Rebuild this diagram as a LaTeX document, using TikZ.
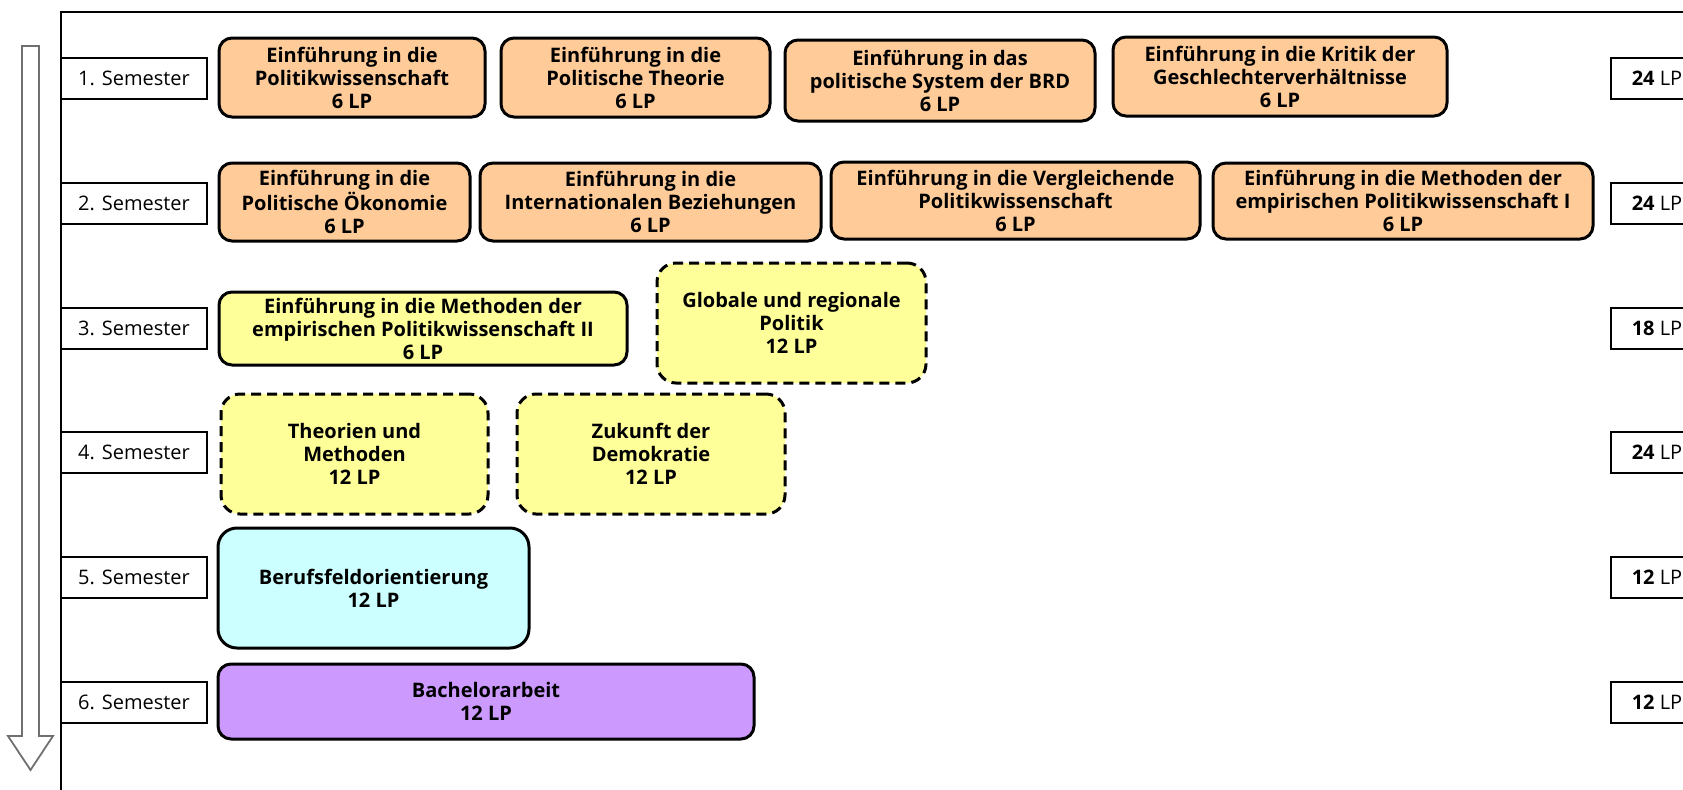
\documentclass[tikz,border=0pt]{standalone}
\usepackage{fontspec}
\setmainfont{Open Sans}
\definecolor{orangeF}{HTML}{FFCC99}
\definecolor{yellowF}{HTML}{FFFF99}
\definecolor{cyanF}{HTML}{CCFFFF}
\definecolor{purpleF}{HTML}{CC99FF}
\definecolor{arrowG}{HTML}{707070}
\tikzset{
  sem/.style={draw=black, line width=1pt, fill=white, inner sep=0pt,
    minimum width=73pt, minimum height=20.5pt, font=\fontsize{10}{12}\selectfont},
  lpbox/.style={draw=black, line width=1pt, fill=white, inner sep=0pt,
    minimum width=46pt, minimum height=20.5pt, font=\fontsize{10}{12}\selectfont},
  mod/.style={draw=black, line width=1.5pt, rounded corners=6.5pt, inner sep=0pt,
    align=center, font=\fontsize{10}{11.5}\selectfont\bfseries},
  modtall/.style={mod, rounded corners=9.5pt},
  moddash/.style={modtall, dash pattern=on 5pt off 3pt},
}
\begin{document}
\begin{tikzpicture}[x=0.5pt, y=-0.5pt]
\useasboundingbox (0,0) rectangle (1683,789);
\clip (0,0) rectangle (1683,789);
% frame
\draw[line width=1pt] (1700,12) -- (61,12) -- (61,800);
% arrow
\draw[arrowG, line width=0.9pt, fill=white] (22,46) -- (39,46) -- (39,736) -- (53,736) -- (30.5,770) -- (8,736) -- (22,736) -- cycle;
% semester labels
\node[sem] (s1) at (134,78.5) {1. Semester};
\node[sem] (s2) at (134,203.5) {2. Semester};
\node[sem] (s3) at (134,328) {3. Semester};
\node[sem] (s4) at (134,452.5) {4. Semester};
\node[sem] (s5) at (134,577) {5. Semester};
\node[sem] (s6) at (134,702) {6. Semester};
% LP labels
\node[lpbox] (l1) at (1657,78.5) {\textbf{24} LP};
\node[lpbox] (l2) at (1657,203.5) {\textbf{24} LP};
\node[lpbox] (l3) at (1657,328) {\textbf{18} LP};
\node[lpbox] (l4) at (1657,452.5) {\textbf{24} LP};
\node[lpbox] (l5) at (1657,577) {\textbf{12} LP};
\node[lpbox] (l6) at (1657,702) {\textbf{12} LP};
% row 1
\node[mod, fill=orangeF, minimum width=133pt, minimum height=39.5pt] (a1) at (352,77.5) {Einführung in die\\Politikwissenschaft\\6 LP};
\node[mod, fill=orangeF, minimum width=134.5pt, minimum height=39.5pt] (a2) at (635.5,77.5) {Einführung in die\\Politische Theorie\\6 LP};
\node[mod, fill=orangeF, minimum width=155pt, minimum height=40.5pt] (a3) at (940,80.5) {Einführung in das\\politische System der BRD\\6 LP};
\node[mod, fill=orangeF, minimum width=167pt, minimum height=39.5pt] (a4) at (1280,76.5) {Einführung in die Kritik der\\Geschlechterverhältnisse\\6 LP};
% row 2
\node[mod, fill=orangeF, minimum width=125.5pt, minimum height=39pt] (b1) at (344.5,202) {Einführung in die\\Politische Ökonomie\\6 LP};
\node[mod, fill=orangeF, minimum width=170.5pt, minimum height=39pt] (b2) at (650.5,202) {Einführung in die\\Internationalen Beziehungen\\6 LP};
\node[mod, fill=orangeF, minimum width=184.5pt, minimum height=38.5pt] (b3) at (1015.5,200.5) {Einführung in die Vergleichende\\Politikwissenschaft\\6 LP};
\node[mod, fill=orangeF, minimum width=190pt, minimum height=38pt] (b4) at (1403,201) {Einführung in die Methoden der\\empirischen Politikwissenschaft I\\6 LP};
% row 3
\node[mod, fill=yellowF, minimum width=204pt, minimum height=36.5pt] (c1) at (423,328.5) {Einführung in die Methoden der\\empirischen Politikwissenschaft II\\6 LP};
\node[moddash, fill=yellowF, minimum width=134.5pt, minimum height=60pt] (c2) at (791.5,323) {Globale und regionale\\Politik\\12 LP};
% row 4
\node[moddash, fill=yellowF, minimum width=133.5pt, minimum height=60pt] (d1) at (354.5,454) {Theorien und\\Methoden\\12 LP};
\node[moddash, fill=yellowF, minimum width=134pt, minimum height=60pt] (d2) at (651,454) {Zukunft der\\Demokratie\\12 LP};
% row 5
\node[modtall, fill=cyanF, minimum width=155.5pt, minimum height=60pt] (e1) at (373.5,588) {Berufsfeldorientierung\\12 LP};
% row 6
\node[mod, fill=purpleF, minimum width=268pt, minimum height=37.5pt] (f1) at (486,701.5) {Bachelorarbeit\\12 LP};
\end{tikzpicture}
\end{document}
